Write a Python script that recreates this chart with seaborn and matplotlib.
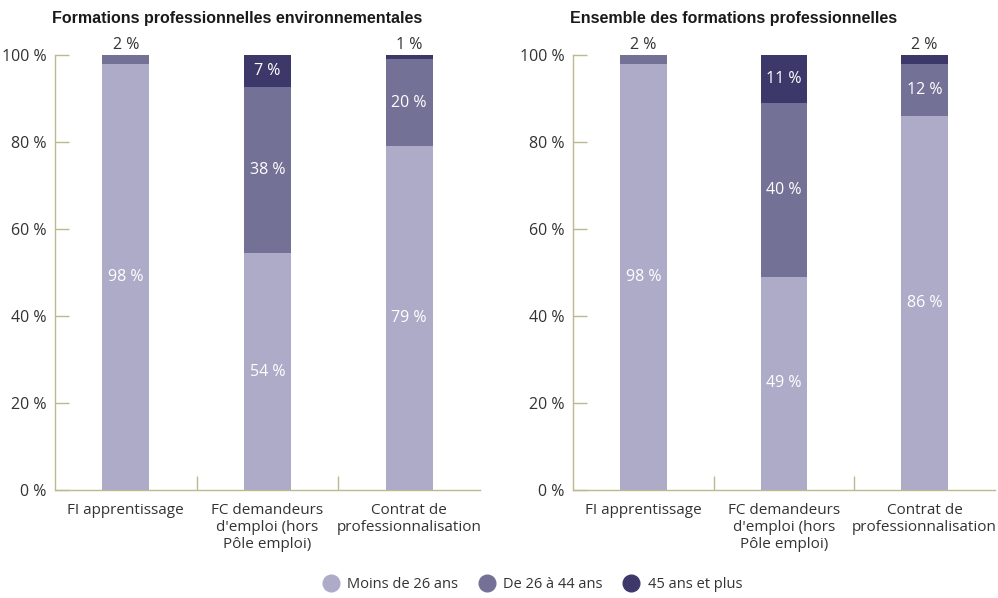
import matplotlib
matplotlib.use("Agg")
import matplotlib.pyplot as plt
import seaborn as sns
import numpy as np
import pandas as pd
from matplotlib.lines import Line2D

categories = ["FI apprentissage", "FC demandeurs\nd'emploi (hors\nPôle emploi)", "Contrat de\nprofessionnalisation"]
series_names = ["Moins de 26 ans", "De 26 à 44 ans", "45 ans et plus"]

# Panel 1 : Formations professionnelles environnementales
env_moins26 = [98, 54.4, 79]
env_26_44 = [2, 38.3, 20]
env_45plus = [0, 7.3, 1]
env_labels = [["98 %", "54 %", "79 %"], ["2 %", "38 %", "20 %"], ["", "7 %", "1 %"]]

# Panel 2 : Ensemble des formations professionnelles
all_moins26 = [98, 49, 86]
all_26_44 = [2, 40, 12]
all_45plus = [0, 11, 2]
all_labels = [["98 %", "49 %", "86 %"], ["2 %", "40 %", "12 %"], ["", "11 %", "2 %"]]

titles = ["Formations professionnelles environnementales", "Ensemble des formations professionnelles"]
ytick_vals = [0, 20, 40, 60, 80, 100]
ytick_labels = ["0 %", "20 %", "40 %", "60 %", "80 %", "100 %"]

colors = ["#aeabc8", "#747196", "#3d386a"]
spine_col = "#bdb98f"
text_col = "#333333"

sns.set_theme(style="white")
plt.rcParams['font.family'] = ['Open Sans', 'DejaVu Sans']

fig = plt.figure(figsize=(9.98, 5.98), dpi=100)
ax_pos = [[55/998, 108/598, 425/998, 435/598], [573/998, 108/598, 422/998, 435/598]]

panels = [(env_moins26, env_26_44, env_45plus, env_labels), (all_moins26, all_26_44, all_45plus, all_labels)]

for i, (s1, s2, s3, labs) in enumerate(panels):
    ax = fig.add_axes(ax_pos[i])
    vals = np.array([s1, s2, s3], dtype=float)
    cum = np.cumsum(vals, axis=0)
    xs = list(range(len(categories)))
    for k in [2, 1, 0]:
        df = pd.DataFrame({"cat": categories, "v": cum[k]})
        sns.barplot(data=df, x="cat", y="v", color=colors[k], width=0.33,
                    saturation=1, ax=ax, order=categories, linewidth=0)
    # labels
    for j in range(len(categories)):
        for k in range(3):
            v = vals[k, j]
            lab = labs[k][j]
            if not lab:
                continue
            if v < 5:
                ax.text(j, cum[2, j] + 0.5, lab, ha="center", va="bottom", color=text_col, fontsize=11.5)
            else:
                mid = cum[k, j] - v / 2
                ax.text(j, mid, lab, ha="center", va="center", color="white", fontsize=11.5)
    ax.set_xlim(-0.5, 2.5)
    ax.set_ylim(0, 100)
    ax.set_xlabel("")
    ax.set_ylabel("")
    ax.set_yticks(ytick_vals)
    ax.set_yticklabels(ytick_labels)
    ax.set_xticks(xs)
    ax.set_xticklabels(categories)
    ax.set_xticks([0.5, 1.5], minor=True)
    ax.tick_params(axis="x", which="major", length=0, pad=9, labelsize=11, labelcolor=text_col)
    ax.tick_params(axis="x", which="minor", direction="in", length=10, width=1, color=spine_col, bottom=True)
    ax.tick_params(axis="y", which="major", direction="in", length=10, width=1, color=spine_col, left=True,
                   labelsize=11.5, labelcolor=text_col, pad=6)
    for side in ["top", "right"]:
        ax.spines[side].set_visible(False)
    for side in ["left", "bottom"]:
        ax.spines[side].set_color(spine_col)
        ax.spines[side].set_linewidth(1)
    ax.grid(False)
    for t in ax.texts:
        t.set_clip_on(False)
    fig.text(ax_pos[i][0] - 3/998, 1 - 18/598, titles[i], ha="left", va="center",
             fontsize=11.5, fontweight="bold", color="#1a1a1a",
             family=["Liberation Sans", "DejaVu Sans"])

handles = [Line2D([0], [0], marker="o", linestyle="", markersize=12, markerfacecolor=c, markeredgecolor=c)
           for c in colors]
fig.legend(handles, series_names, loc="center", bbox_to_anchor=(529/998, 1 - 585/598), ncol=3, frameon=False,
           fontsize=10.5, handletextpad=0.1, columnspacing=1.0, labelcolor=text_col)

fig.savefig("out.png", dpi=100)
